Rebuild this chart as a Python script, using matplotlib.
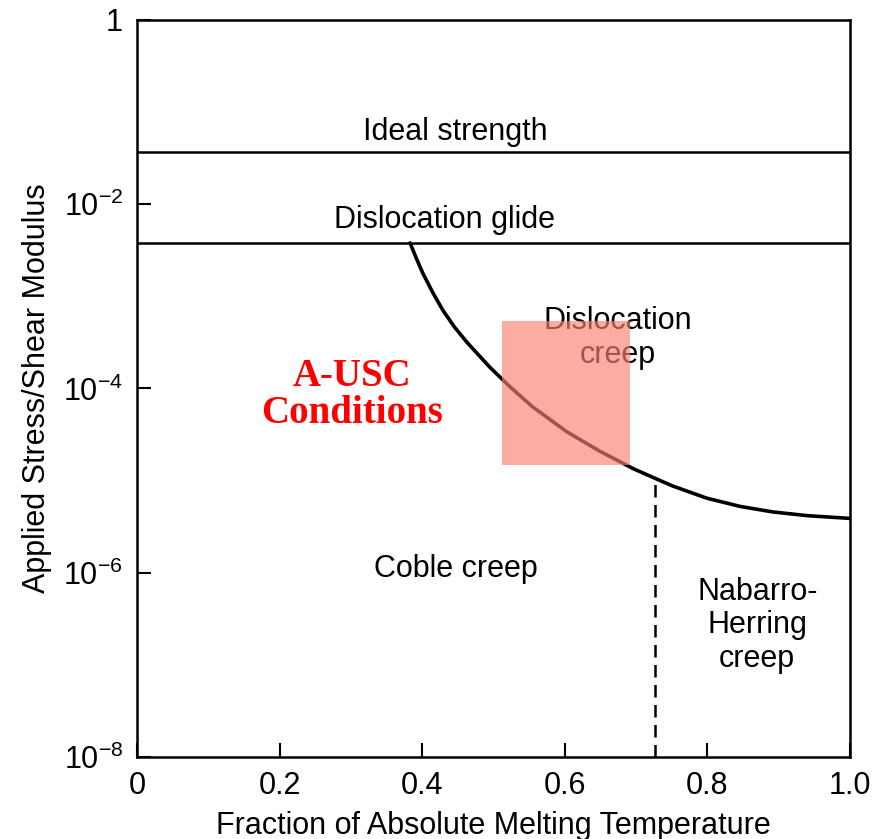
import matplotlib
matplotlib.use("Agg")
import matplotlib.pyplot as plt
from matplotlib.patches import Rectangle

plt.rcParams['font.family'] = ['Liberation Sans', 'DejaVu Sans']
plt.rcParams['mathtext.fontset'] = 'custom'
plt.rcParams['mathtext.rm'] = 'Liberation Sans'
plt.rcParams['mathtext.it'] = 'Liberation Sans'

# boundary between dislocation creep and diffusion creep (log10 of stress/modulus)
curve_T = [0.383, 0.392, 0.401, 0.415, 0.429, 0.445, 0.463, 0.495, 0.523, 0.555,
           0.603, 0.649, 0.696, 0.734, 0.752, 0.799, 0.846, 0.892, 0.940, 1.0]
curve_logS = [-2.42, -2.59, -2.75, -2.96, -3.15, -3.33, -3.50, -3.77, -3.98, -4.20,
              -4.47, -4.68, -4.87, -5.00, -5.06, -5.19, -5.28, -5.34, -5.38, -5.41]

ideal_strength = 0.0369
glide_limit = 3.8e-3

# Coble / Nabarro-Herring split
nh_T = 0.727
nh_top = 1.0e-5

# A-USC window
ausc_T = [0.512, 0.691]
ausc_S = [1.48e-5, 5.4e-4]

xticks = [0, 0.2, 0.4, 0.6, 0.8, 1.0]
xticklabels = ['0', '0.2', '0.4', '0.6', '0.8', '1.0']
yticks = [1, 1e-2, 1e-4, 1e-6, 1e-8]
yticklabels = ['1', r'$10^{-2}$', r'$10^{-4}$', r'$10^{-6}$', r'$10^{-8}$']

fig = plt.figure(figsize=(8.86, 8.39), dpi=100)
ax = fig.add_axes([0.1546, 0.0977, 0.8047, 0.8785])
ax.set_xlim(0, 1.0)
ax.set_ylim(1e-8, 1)
ax.set_yscale('log')

ax.axhline(ideal_strength, color='black', lw=1.8)
ax.axhline(glide_limit, color='black', lw=1.8)
ax.plot(curve_T, [10 ** v for v in curve_logS], color='black', lw=2.6,
        solid_capstyle='round', solid_joinstyle='round')
ax.plot([nh_T, nh_T], [1e-8, nh_top], color='black', lw=1.8,
        linestyle=(0, (5, 3)))

ax.add_patch(Rectangle((ausc_T[0], ausc_S[0]), ausc_T[1] - ausc_T[0],
                       ausc_S[1] - ausc_S[0], facecolor='#fa8072',
                       alpha=0.65, edgecolor='none', zorder=5))

fs = 22
ax.text(0.446, 10 ** -1.216, 'Ideal strength', fontsize=fs, ha='center', va='center')
ax.text(0.431, 10 ** -2.17, 'Dislocation glide', fontsize=fs, ha='center', va='center')
ax.text(0.675, 10 ** -3.45, 'Dislocation\ncreep', fontsize=fs, ha='center',
        va='center', linespacing=1.15)
ax.text(0.447, 10 ** -5.96, 'Coble creep', fontsize=fs, ha='center', va='center')
ax.text(0.87, 10 ** -6.57, 'Nabarro-\nHerring\ncreep', fontsize=fs, ha='center',
        va='center', linespacing=1.15)
ax.text(0.302, 10 ** -4.07, 'A-USC\nConditions', fontsize=28, ha='center',
        va='center', color='red', fontweight='bold', linespacing=1.0,
        family=['Liberation Serif', 'DejaVu Serif'], zorder=6)

ax.set_xticks(xticks)
ax.set_xticklabels(xticklabels)
ax.set_yticks(yticks)
ax.set_yticklabels(yticklabels)
ax.minorticks_off()
ax.tick_params(direction='in', length=10, width=1.5, labelsize=fs, pad=10)

for s in ax.spines.values():
    s.set_linewidth(1.8)

ax.set_xlabel('Fraction of Absolute Melting Temperature', fontsize=fs, labelpad=7)
ax.set_ylabel('Applied Stress/Shear Modulus', fontsize=fs, labelpad=8)

fig.savefig('out.png', dpi=100)
